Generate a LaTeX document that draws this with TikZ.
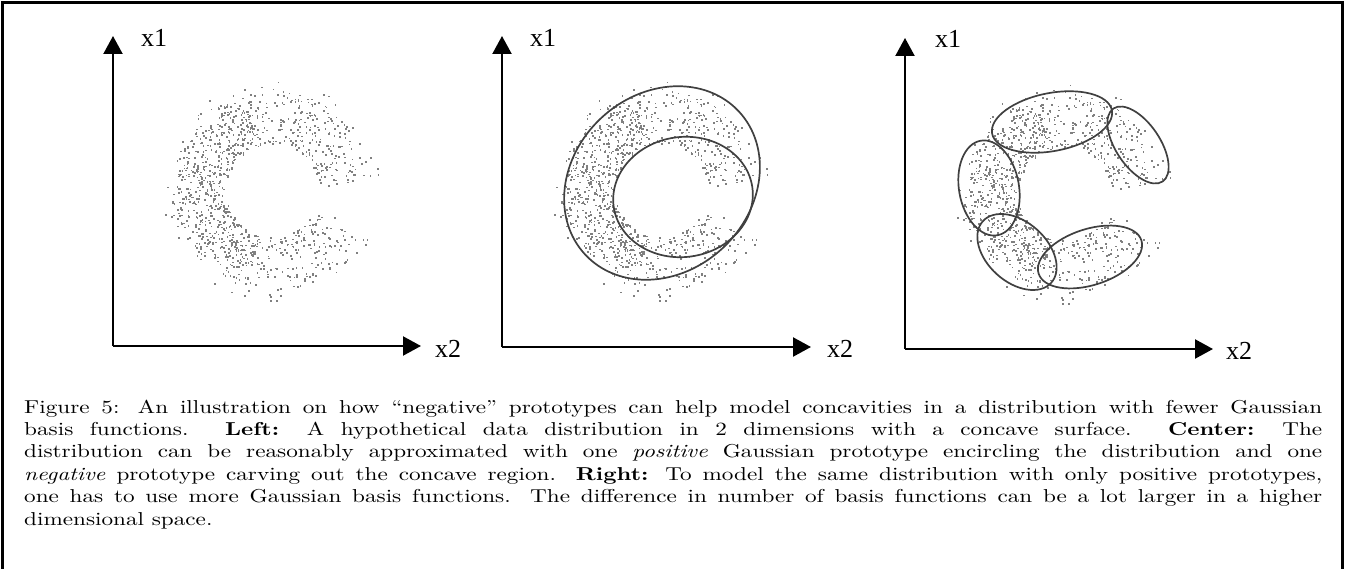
\documentclass[tikz,border=0pt]{standalone}
\usepackage{fontspec}
\usepackage{graphicx}
\newfontfamily\labfont{Liberation Serif}
\usetikzlibrary{arrows.meta}
\definecolor{dotc}{gray}{0.5}
\definecolor{ringc}{gray}{0.25}
\newcommand\DrawCDots[2]{%
  \pgfmathsetseed{4242}%
  \foreach \i in {1,...,700}{%
    \pgfmathsetmacro\ph{6+326*rnd}%
    \pgfmathsetmacro\rr{47+53*rnd}%
    \fill[dotc] ({#1+\rr*cos(\ph)},{#2-\rr*sin(\ph)}) rectangle ++(1.7,1.7);%
  }%
  \foreach \i in {1,...,380}{%
    \pgfmathsetmacro\ph{105+150*rnd}%
    \pgfmathsetmacro\rr{46+50*rnd}%
    \fill[dotc] ({#1+\rr*cos(\ph)},{#2-\rr*sin(\ph)}) rectangle ++(1.7,1.7);%
  }%
  \foreach \i in {1,...,50}{%
    \pgfmathsetmacro\ph{5+330*rnd}%
    \pgfmathsetmacro\rr{98+12*rnd}%
    \fill[dotc] ({#1+\rr*cos(\ph)},{#2-\rr*sin(\ph)}) rectangle ++(1.7,1.7);%
  }%
  \fill[dotc] (#1+56,#2-5) rectangle ++(1.7,1.7);
  \fill[dotc] (#1-4,#2+56) rectangle ++(1.7,1.7);
  \fill[dotc] (#1+62,#2+27) rectangle ++(1.7,1.7);
}
\begin{document}
\begin{tikzpicture}[x=1pt,y=-1pt,
  axis/.style={line width=2.2pt,-{Triangle[length=18pt,width=19pt]}},
  axlabel/.style={font=\labfont\fontsize{26pt}{26pt}\selectfont,inner sep=0pt},
  ring/.style={ringc,line width=1.7pt},
  framel/.style={line width=2.6pt,line cap=rect}]
\useasboundingbox (0,0) rectangle (1346,569);
\fill[white] (0,0) rectangle (1346,569);
% frame
\draw[framel] (2.3,569) -- (2.3,2.3) -- (1342.7,2.3) -- (1342.7,569);

% ---------- left panel ----------
\coordinate (oL) at (113,346);
\coordinate (yL) at (113,36);
\coordinate (xL) at (421,346);
\DrawCDots{272}{190}
\draw[axis] (oL) -- (yL);
\draw[axis] (oL) -- (xL);
\node[axlabel] (x1L) at (154,38) {x1};
\node[axlabel] (x2L) at (448,349) {x2};

% ---------- middle panel ----------
\coordinate (oM) at (502,347);
\coordinate (yM) at (502,36);
\coordinate (xM) at (811,347);
\DrawCDots{661}{190}
\draw[ring,rotate around={43:(662,183)}] (662,183) ellipse [x radius=105,y radius=89];
\draw[ring,rotate around={8:(683,197)}] (683,197) ellipse [x radius=70,y radius=60];
\draw[axis] (oM) -- (yM);
\draw[axis] (oM) -- (xM);
\node[axlabel] (x1M) at (543,38) {x1};
\node[axlabel] (x2M) at (840,349) {x2};

% ---------- right panel ----------
\coordinate (oR) at (905,349);
\coordinate (yR) at (905,38);
\coordinate (xR) at (1213,349);
\DrawCDots{1064}{193}
\draw[ring,rotate around={11:(1052,122)}] (1052,122) ellipse [x radius=61,y radius=29];
\draw[ring,rotate around={-56:(1138,145)}] (1138,145) ellipse [x radius=44,y radius=22];
\draw[ring,rotate around={-80:(989,188)}] (989,188) ellipse [x radius=48,y radius=30];
\draw[ring,rotate around={-42:(1017,252)}] (1017,252) ellipse [x radius=46,y radius=30];
\draw[ring,rotate around={18:(1090,257)}] (1090,257) ellipse [x radius=54,y radius=28];
\draw[axis] (oR) -- (yR);
\draw[axis] (oR) -- (xR);
\node[axlabel] (x1R) at (948,39) {x1};
\node[axlabel] (x2R) at (1239,351) {x2};

% ---------- caption ----------
\node[anchor=base west,inner sep=0pt] (cap) at (24,413) {\scalebox{2.318}[1.867]{\parbox[t]{560pt}{\fontsize{10pt}{12pt}\selectfont
Figure 5: An illustration on how “negative” prototypes can help model concavities in a distribution with fewer Gaussian\linebreak
basis functions. \textbf{Left:} A hypothetical data distribution in 2 dimensions with a concave surface. \textbf{Center:} The\linebreak
distribution can be reasonably approximated with one \emph{positive} Gaussian prototype encircling the distribution and one\linebreak
\emph{negative} prototype carving out the concave region. \textbf{Right:} To model the same distribution with only positive prototypes,\linebreak
one has to use more Gaussian basis functions. The difference in number of basis functions can be a lot larger in a higher\linebreak
dimensional space.}}};
\end{tikzpicture}
\end{document}
